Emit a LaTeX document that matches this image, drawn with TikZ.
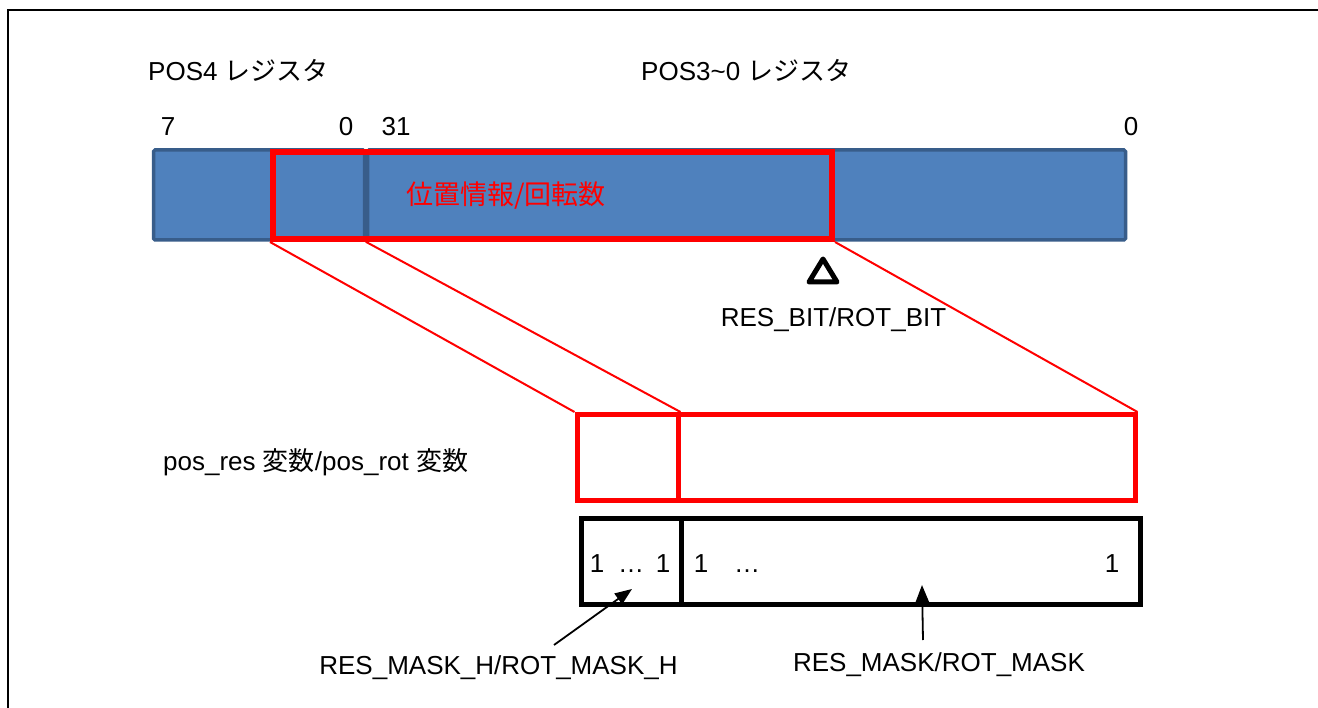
\documentclass[tikz,border=0pt]{standalone}
\usepackage{fontspec}
\setmainfont{Liberation Sans}
\newfontfamily\cjk{Noto Sans CJK JP}
\usetikzlibrary{arrows.meta}
\definecolor{regfill}{HTML}{4F81BD}
\definecolor{regline}{HTML}{385D8A}
\begin{document}
\begin{tikzpicture}[x=1pt,y=-1pt,
  lbl/.style={font=\fontsize{26}{31}\selectfont, inner sep=0pt, text=black},
  regbox/.style={draw=regline, fill=regfill, line width=3.5pt, rounded corners=1.5pt, minimum height=90pt, inner sep=0pt},
  redsel/.style={draw=red, line width=6pt, minimum height=87pt, inner sep=0pt},
  varbox/.style={draw=red, line width=5pt, minimum height=86pt, inner sep=0pt},
  maskbox/.style={draw=black, line width=5pt, minimum height=86pt, inner sep=0pt},
  mapline/.style={draw=red, line width=2pt},
  pointer/.style={draw=black, line width=1.8pt, -{Triangle[length=17pt,width=13pt]}}
]
\useasboundingbox (0,0) rectangle (1318,708);
\fill[white] (0,0) rectangle (1318,708);
% frame
\coordinate (fbl) at (8,708);
\coordinate (ftl) at (8,10);
\coordinate (ftr) at (1318,10);
\draw[line width=2.7pt] (fbl) -- (ftl) -- (ftr);

% headings
\node[lbl, anchor=west] (pos4) at (148,70) {POS4 {\cjk レジスタ}};
\node[lbl, anchor=west] (pos30) at (641,70) {POS3\textasciitilde0 {\cjk レジスタ}};
\node[lbl] (b7) at (168,127) {7};
\node[lbl] (b0a) at (346,127) {0};
\node[lbl] (b31) at (396,127) {31};
\node[lbl] (b0b) at (1131,127) {0};

% registers
\node[regbox, minimum width=211pt] (reg4) at (259,195) {};
\node[regbox, minimum width=758pt] (reg30) at (746.5,195) {};
\node[redsel, minimum width=559pt] (sel) at (552.5,195.5) {};
\node[font=\cjk\fontsize{27}{32}\selectfont, text=red, inner sep=0pt, anchor=west] (info) at (406,196) {位置情報/回転数};

% bit marker
\coordinate (tA) at (823,259);
\coordinate (tB) at (809,282);
\coordinate (tC) at (837,282);
\draw[line width=5pt, line join=round] (tA) -- (tB) -- (tC) -- cycle;
\node[lbl] (resbit) at (833.5,320) {RES\_BIT/ROT\_BIT};

% variable boxes
\node[lbl, anchor=west] (var) at (163,462) {pos\_res {\cjk 変数}/pos\_rot {\cjk 変数}};
\node[varbox, minimum width=101pt] (v1) at (627.5,457.5) {};
\node[varbox, minimum width=457pt] (v2) at (906.5,457.5) {};

% mask boxes
\node[maskbox, minimum width=100pt] (m1) at (631,561.5) {};
\node[maskbox, minimum width=459pt] (m2) at (910.5,561.5) {};
\node[lbl, anchor=base] (o1) at (597,572) {1};
\node[lbl, anchor=base] (d1) at (631,572) {\dots};
\node[lbl, anchor=base] (o2) at (663,572) {1};
\node[lbl, anchor=base] (o3) at (701,572) {1};
\node[lbl, anchor=base] (d2) at (747,572) {\dots};
\node[lbl, anchor=base] (o4) at (1112,572) {1};

% mapping lines
\draw[mapline] (sel.south west) -- (v1.north west);
\draw[mapline] (reg30.south west) -- (v1.north east);
\draw[mapline] (sel.south east) -- (v2.north east);

% labels with pointers
\node[lbl] (maskh) at (498.5,668) {RES\_MASK\_H/ROT\_MASK\_H};
\node[lbl] (mask) at (939,665) {RES\_MASK/ROT\_MASK};
\coordinate (p1s) at (554,645);
\coordinate (p1e) at (632,589);
\coordinate (p2s) at (923,640);
\coordinate (p2e) at (922,585);
\draw[pointer] (p1s) -- (p1e);
\draw[pointer] (p2s) -- (p2e);
\end{tikzpicture}
\end{document}
